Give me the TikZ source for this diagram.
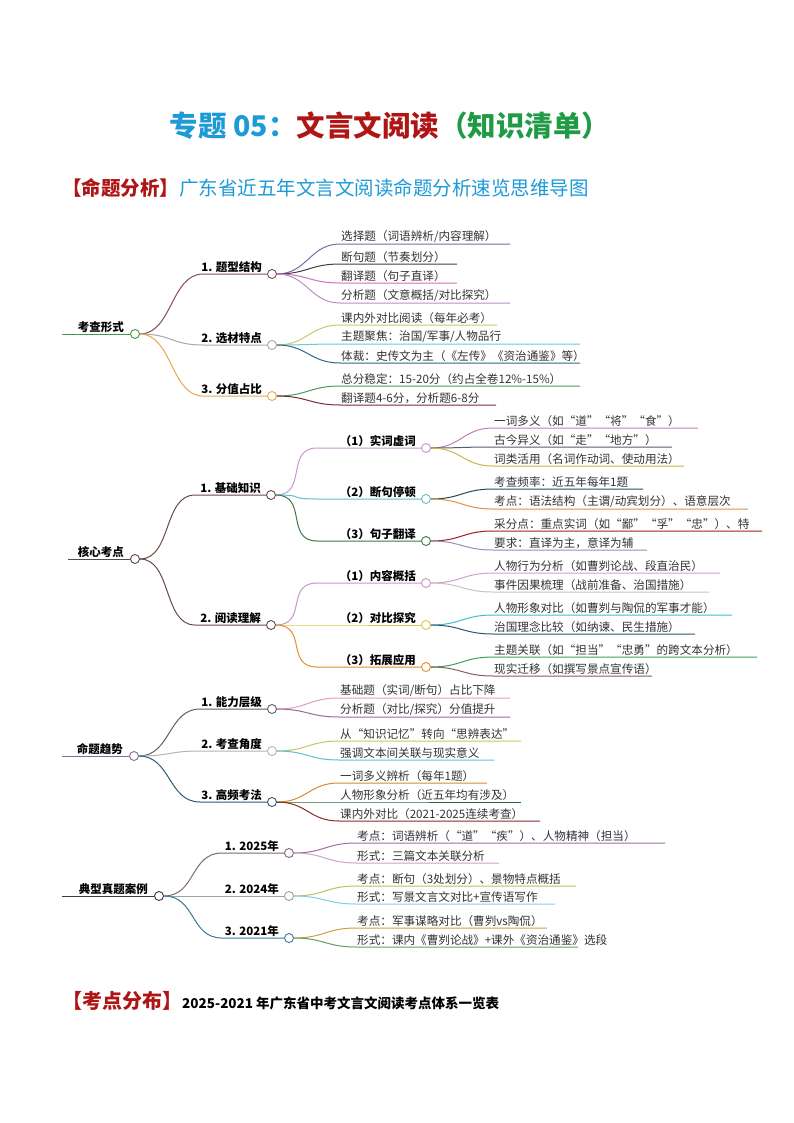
\documentclass[tikz,border=0pt]{standalone}
\usepackage{fontspec}
\setmainfont{Noto Sans CJK SC}
\usetikzlibrary{calc}
\definecolor{tblue}{HTML}{1E9BD7}
\definecolor{tred}{HTML}{B01515}
\definecolor{tgreen}{HTML}{1F9A45}
\definecolor{ltxt}{HTML}{333333}
\tikzset{
 hubc/.style={circle,fill=white,line width=0.9pt,minimum size=9pt,inner sep=0pt},
 leaft/.style={font=\fontsize{11.6}{13}\selectfont,text=ltxt,inner sep=1pt},
 brt/.style={font=\fontsize{11.5}{13}\selectfont\bfseries,inner sep=1pt},
 conn/.style={line width=1pt},
}
% name, from, x, y, xend, color, text
\newcommand\leaf[7]{%
 \definecolor{cc#1}{HTML}{#6}%
 \node[leaft,anchor=south west] (#1) at (#3,#4) {#7};
 \draw[conn,draw=cc#1] (#2.east) .. controls +(30,0) and +(-30,0) .. (#1.south west) -- (#5,#4);}
% name, from, xstart, y, circle x, color, text
\newcommand\branch[7]{%
 \definecolor{cc#1}{HTML}{#6}%
 \node[hubc,draw=cc#1] (#1) at (#5,#4) {};
 \node[brt,anchor=south east] (#1t) at ($(#1.west)+(-4,0)$) {#7};
 \coordinate (#1s) at (#3,#4);
 \draw[conn,draw=cc#1] (#2.east) .. controls +(32,0) and +(-32,0) .. (#1s) -- (#1.west);}
% name, xstart, y, circle x, color, text
\newcommand\rootn[6]{%
 \definecolor{cc#1}{HTML}{#5}%
 \node[hubc,draw=cc#1] (#1) at (#4,#3) {};
 \node[brt,anchor=south east] (#1t) at ($(#1.west)+(-5,0)$) {#6};
 \coordinate (#1s) at (#2,#3);
 \draw[conn,draw=cc#1] (#1s) -- (#1.west);}
\begin{document}
\begin{tikzpicture}[x=1pt,y=-1pt]
\useasboundingbox (0,0) rectangle (794,1123);
\fill[white] (0,0) rectangle (794,1123);
% title
\node[font=\fontsize{28.5}{32}\selectfont\bfseries,inner sep=0] (title) at (390,126)
 {\textcolor{tblue}{专题 05：}\textcolor{tred}{文言文阅读}\textcolor{tgreen}{（知识清单）}};
\node[anchor=west,font=\fontsize{19.5}{22}\selectfont,inner sep=0] (sub) at (62,188)
 {\textcolor{tred}{\bfseries【命题分析】}\textcolor{tblue}{广东省近五年文言文阅读命题分析速览思维导图}};
% ===== Section 1
\rootn{r1}{62}{334}{135}{3E9A4E}{考查形式}
\branch{a1}{r1}{203}{274}{272}{8A4A5E}{1. 题型结构}
\leaf{a11}{a1}{340}{244}{510}{7A6A9E}{选择题（词语辨析/内容理解）}
\leaf{a12}{a1}{340}{264}{457}{404040}{断句题（节奏划分）}
\leaf{a13}{a1}{340}{283}{457}{D070C0}{翻译题（句子直译）}
\leaf{a14}{a1}{340}{303}{510}{B890C8}{分析题（文意概括/对比探究）}
\branch{a2}{r1}{203}{345}{272}{A8A8A8}{2. 选材特点}
\leaf{a21}{a2}{340}{325}{497}{C8C868}{课内外对比阅读（每年必考）}
\leaf{a22}{a2}{340}{344}{580}{70C8C8}{主题聚焦：治国/军事/人物品行}
\leaf{a23}{a2}{340}{363}{580}{2A6A8A}{体裁：史传文为主（《左传》《资治通鉴》等）}
\branch{a3}{r1}{203}{396}{272}{E8A850}{3. 分值占比}
\leaf{a31}{a3}{340}{386}{580}{4A9A5A}{总分稳定：15-20分（约占全卷12\%-15\%）}
\leaf{a32}{a3}{340}{405}{496}{7A2A3A}{翻译题4-6分，分析题6-8分}
% ===== Section 2
\rootn{r2}{68}{559}{135}{5A4A44}{核心考点}
\branch{b1}{r2}{195}{495}{271}{6A4A44}{1. 基础知识}
\branch{b11}{b1}{317}{448}{426}{C898C8}{（1）实词虚词}
\leaf{b111}{b11}{493}{428}{698}{C080B0}{一词多义（如“道”“将”“食”）}
\leaf{b112}{b11}{493}{447}{672}{506070}{古今异义（如“走”“地方”）}
\leaf{b113}{b11}{493}{466}{684}{C8B848}{词类活用（名词作动词、使动用法）}
\branch{b12}{b1}{317}{499}{426}{60C0C8}{（2）断句停顿}
\leaf{b121}{b12}{493}{489}{643}{2A4A5A}{考查频率：近五年每年1题}
\leaf{b122}{b12}{493}{509}{748}{E09040}{考点：语法结构（主谓/动宾划分）、语意层次}
\branch{b13}{b1}{317}{541}{426}{3A7A4A}{（3）句子翻译}
\leaf{b131}{b13}{493}{531}{762}{A02020}{采分点：重点实词（如“鄙”“孚”“忠”）、特}
\leaf{b132}{b13}{493}{550}{647}{9090C0}{要求：直译为主，意译为辅}
\branch{b2}{r2}{195}{625}{271}{6A4A44}{2. 阅读理解}
\branch{b21}{b2}{317}{583}{426}{C898C8}{（1）内容概括}
\leaf{b211}{b21}{493}{573}{720}{D0A0D0}{人物行为分析（如曹刿论战、段直治民）}
\leaf{b212}{b21}{493}{592}{709}{C4C4C4}{事件因果梳理（战前准备、治国措施）}
\branch{b22}{b2}{317}{625}{426}{D8C848}{（2）对比探究}
\leaf{b221}{b22}{493}{615}{732}{40C0D0}{人物形象对比（如曹刿与陶侃的军事才能）}
\leaf{b222}{b22}{493}{634}{695}{2A5A6A}{治国理念比较（如纳谏、民生措施）}
\branch{b23}{b2}{317}{667}{426}{E09030}{（3）拓展应用}
\leaf{b231}{b23}{493}{657}{757}{40A060}{主题关联（如“担当”“忠勇”的跨文本分析）}
\leaf{b232}{b23}{493}{676}{652}{806060}{现实迁移（如撰写景点宣传语）}
% ===== Section 3
\rootn{r3}{62}{756}{134}{8A6A9A}{命题趋势}
\branch{c1}{r3}{200}{709}{272}{606060}{1. 能力层级}
\leaf{c11}{c1}{339}{698}{510}{E0A0C0}{基础题（实词/断句）占比下降}
\leaf{c12}{c1}{339}{717}{510}{9A6A9A}{分析题（对比/探究）分值提升}
\branch{c2}{r3}{200}{751}{272}{B4B4B4}{2. 考查角度}
\leaf{c21}{c2}{339}{741}{521}{C8C858}{从“知识记忆”转向“思辨表达”}
\leaf{c22}{c2}{339}{760}{494}{60C0D0}{强调文本间关联与现实意义}
\branch{c3}{r3}{200}{802}{272}{2A5A7A}{3. 高频考法}
\leaf{c31}{c3}{339}{783}{487}{D09030}{一词多义辨析（每年1题）}
\leaf{c32}{c3}{339}{802}{521}{2A6A3A}{人物形象分析（近五年均有涉及）}
\leaf{c33}{c3}{339}{821}{540}{8A2A2A}{课内外对比（2021-2025连续考查）}
% ===== Section 4
\rootn{r4}{62}{896}{159}{3A3A4A}{典型真题案例}
\branch{d1}{r4}{222}{853}{289}{806870}{1. 2025年}
\leaf{d11}{d1}{356}{843}{665}{A070A0}{考点：词语辨析（“道”“疾”）、人物精神（担当）}
\leaf{d12}{d1}{356}{863}{499}{D0A0C8}{形式：三篇文本关联分析}
\branch{d2}{r4}{222}{896}{289}{A0A0A0}{2. 2024年}
\leaf{d21}{d2}{356}{886}{576}{C0C060}{考点：断句（3处划分）、景物特点概括}
\leaf{d22}{d2}{356}{904}{555}{80D0E0}{形式：写景文言文对比+宣传语写作}
\branch{d3}{r4}{222}{938}{289}{3A7A9A}{3. 2021年}
\leaf{d31}{d3}{356}{928}{547}{D0A040}{考点：军事谋略对比（曹刿vs陶侃）}
\leaf{d32}{d3}{356}{947}{578}{60A060}{形式：课内《曹刿论战》+课外《资治通鉴》选段}
% bottom
\node[anchor=west,inner sep=0] (bot) at (62,1001)
 {\textcolor{tred}{\fontsize{20}{22}\selectfont\bfseries【考点分布】}{\fontsize{13.5}{15}\selectfont\bfseries 2025-2021 年广东省中考文言文阅读考点体系一览表}};
\end{tikzpicture}
\end{document}
